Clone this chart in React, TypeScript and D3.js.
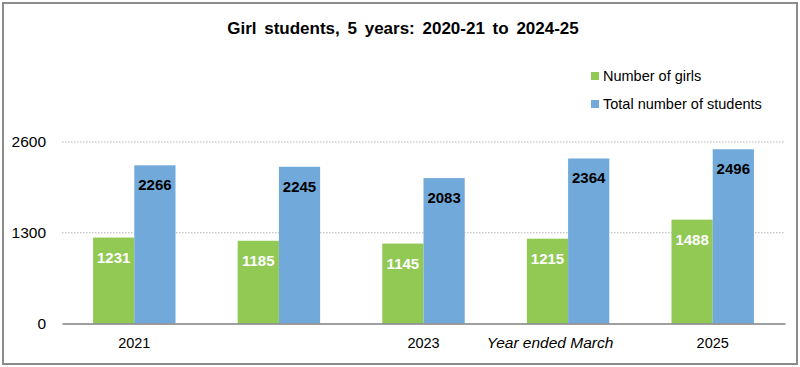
import * as d3 from "d3";
import React, { useEffect, useRef } from "react";

const years = ["2021", "2022", "2023", "2024", "2025"];
const tickLabels = ["2021", "", "2023", "", "2025"];
const girls = [1231, 1185, 1145, 1215, 1488];
const totals = [2266, 2245, 2083, 2364, 2496];
const yTicks = [0, 1300, 2600];
const seriesNames = ["Number of girls", "Total number of students"];

export default function App() {
  const svgRef = useRef<SVGSVGElement>(null);

  useEffect(() => {
    const width = 800;
    const height = 367;
    const svg = d3.select(svgRef.current);
    svg.selectAll("*").remove();
    svg.attr("width", width).attr("height", height).style("background", "#fff");

    // frame
    svg
      .append("rect")
      .attr("x", 3)
      .attr("y", 3)
      .attr("width", 794)
      .attr("height", 361)
      .attr("fill", "#fff")
      .attr("stroke", "#8c8c8c")
      .attr("stroke-width", 2);

    const font = "Liberation Sans, Arial, sans-serif";
    const colors = ["#92C955", "#72A9DB"];

    const xScale = d3.scaleBand().domain(years).range([62, 785]).paddingInner(0.43).paddingOuter(0.215);
    const xSub = d3.scaleBand().domain(["g", "t"]).range([0, xScale.bandwidth()]);
    const yScale = d3.scaleLinear().domain([0, 2600]).range([323.5, 142]);

    //gridlines
    svg
      .append("g")
      .selectAll("line")
      .data(yTicks.filter((d) => d > 0))
      .join("line")
      .attr("x1", 62)
      .attr("x2", 785)
      .attr("y1", (d) => yScale(d))
      .attr("y2", (d) => yScale(d))
      .attr("stroke", "#b5b5b5")
      .attr("stroke-dasharray", "1.5,1.5");

    //y axis labels
    const yAxis = d3
      .axisLeft(yScale)
      .tickValues(yTicks)
      .tickSize(0)
      .tickPadding(16)
      .tickFormat((d) => String(d));
    const yG = svg.append("g").attr("transform", "translate(62,0)").call(yAxis);
    yG.select(".domain").remove();
    yG.selectAll("text").attr("font-family", font).attr("font-size", 15.5).attr("fill", "#000");

    //bars
    const groups = svg
      .append("g")
      .selectAll("g")
      .data(years)
      .join("g")
      .attr("transform", (d) => `translate(${xScale(d)},0)`);

    groups
      .append("rect")
      .attr("x", xSub("g")!)
      .attr("width", xSub.bandwidth())
      .attr("y", (d, i) => yScale(girls[i]))
      .attr("height", (d, i) => yScale(0) - yScale(girls[i]))
      .attr("fill", colors[0]);
    groups
      .append("rect")
      .attr("x", xSub("t")!)
      .attr("width", xSub.bandwidth())
      .attr("y", (d, i) => yScale(totals[i]))
      .attr("height", (d, i) => yScale(0) - yScale(totals[i]))
      .attr("fill", colors[1]);

    groups
      .append("text")
      .attr("x", xSub("g")! + xSub.bandwidth() / 2)
      .attr("y", (d, i) => yScale(girls[i]) + 25)
      .attr("text-anchor", "middle")
      .attr("font-family", font)
      .attr("font-weight", "bold")
      .attr("font-size", 15)
      .attr("fill", "#fff")
      .text((d, i) => girls[i]);
    groups
      .append("text")
      .attr("x", xSub("t")! + xSub.bandwidth() / 2)
      .attr("y", (d, i) => yScale(totals[i]) + 25)
      .attr("text-anchor", "middle")
      .attr("font-family", font)
      .attr("font-weight", "bold")
      .attr("font-size", 15)
      .attr("fill", "#000")
      .text((d, i) => totals[i]);

    //x axis
    const xAxis = d3
      .axisBottom(xScale)
      .tickSize(0)
      .tickPadding(14)
      .tickFormat((d, i) => tickLabels[i]);
    const xG = svg.append("g").attr("transform", `translate(0,${yScale(0)})`).call(xAxis);
    xG.select(".domain").attr("stroke", "#7f7f7f").attr("stroke-width", 1.5);
    xG.selectAll("text").attr("font-family", font).attr("font-size", 14.5).attr("fill", "#000");

    svg
      .append("text")
      .attr("x", 550)
      .attr("y", 348)
      .attr("text-anchor", "middle")
      .attr("font-family", font)
      .attr("font-style", "italic")
      .attr("font-size", 15.5)
      .text("Year ended March");

    //title
    svg
      .append("text")
      .attr("x", 403)
      .attr("y", 34)
      .attr("text-anchor", "middle")
      .attr("font-family", "Liberation Sans Narrow, Liberation Sans, Arial, sans-serif")
      .attr("font-weight", "bold")
      .attr("font-size", 17)
      .attr("word-spacing", 3)
      .text("Girl students, 5 years: 2020-21 to 2024-25");

    //legend
    const legend = svg
      .append("g")
      .selectAll("g")
      .data(seriesNames)
      .join("g")
      .attr("transform", (d, i) => `translate(591,${72 + i * 28})`);
    legend
      .append("rect")
      .attr("width", 8)
      .attr("height", 8)
      .attr("fill", (d, i) => colors[i]);
    legend
      .append("text")
      .attr("x", 12)
      .attr("y", 9)
      .attr("font-family", "Liberation Sans Narrow, Liberation Sans, Arial, sans-serif")
      .attr("font-size", 14.5)
      .text((d) => d);
  }, []);

  return <svg ref={svgRef} style={{ position: "absolute", left: 0, top: 0 }}></svg>;
}
